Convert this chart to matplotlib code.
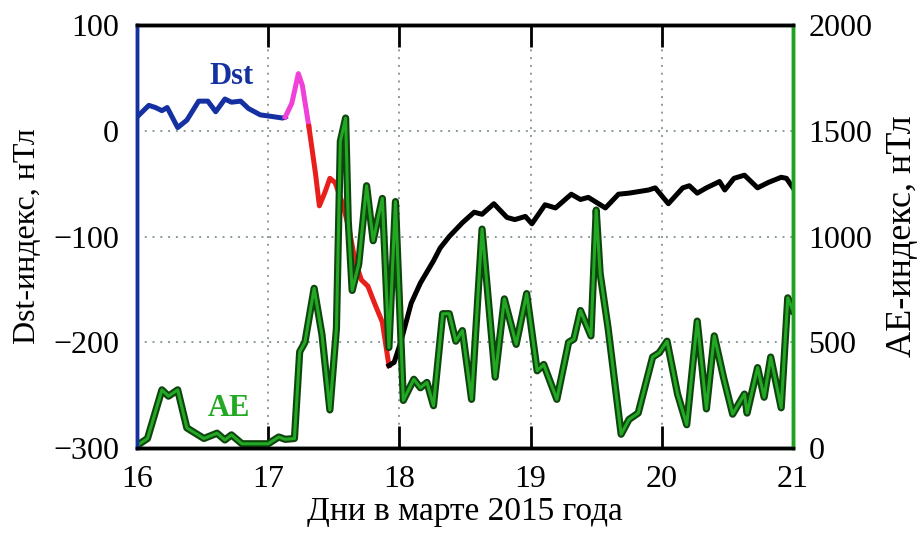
import matplotlib
matplotlib.use("Agg")
import matplotlib.pyplot as plt
import matplotlib.patheffects as pe
import numpy as np

plt.rcParams['font.family'] = ['Liberation Serif', 'DejaVu Serif']

# Dst index, split by phase (each segment shares its first point with the previous one)
dst_blue_t = [16.0, 16.09, 16.14, 16.19, 16.23, 16.31, 16.38, 16.47, 16.54, 16.60, 16.67,
              16.72, 16.79, 16.85, 16.94, 17.0, 17.11, 17.13]
dst_blue_v = [13, 24, 22, 19, 22, 3, 10, 28, 28, 18, 30, 27, 28, 21, 15, 14, 12, 13]

dst_magenta_t = [17.13, 17.18, 17.23, 17.26, 17.31]
dst_magenta_v = [13, 26, 54, 43, 4]

dst_red_t = [17.31, 17.36, 17.39, 17.43, 17.47, 17.51, 17.57, 17.62, 17.66, 17.71, 17.76,
             17.81, 17.87, 17.92]
dst_red_v = [4, -40, -71, -59, -45, -49, -70, -95, -122, -141, -147, -163, -181, -222]

dst_black_t = [17.92, 17.96, 18.01, 18.09, 18.16, 18.26, 18.31, 18.38, 18.48, 18.57, 18.63,
               18.72, 18.82, 18.88, 18.96, 19.01, 19.11, 19.19, 19.31, 19.38, 19.44, 19.57,
               19.67, 19.75, 19.90, 19.95, 20.05, 20.16, 20.21, 20.27, 20.34, 20.44, 20.48,
               20.55, 20.63, 20.73, 20.81, 20.91, 20.95, 21.0]
dst_black_v = [-222, -219, -200, -163, -144, -123, -111, -100, -87, -77, -79,
               -69, -82, -84, -81, -88, -70, -73, -60, -65, -63, -73,
               -60, -59, -56, -54, -69, -54, -52, -59, -54, -48, -56,
               -45, -42, -54, -49, -44, -45, -54]

# AE index
ae_t = [16.0, 16.02, 16.08, 16.19, 16.24, 16.31, 16.38, 16.51, 16.61, 16.67, 16.72, 16.80,
        17.0, 17.08, 17.13, 17.20, 17.24, 17.28, 17.35, 17.41, 17.47, 17.52, 17.55, 17.59,
        17.61, 17.64, 17.69, 17.75, 17.80, 17.87, 17.92, 17.97, 18.03, 18.11, 18.16, 18.21,
        18.26, 18.33, 18.38, 18.43, 18.48, 18.55, 18.63, 18.73, 18.80, 18.89, 18.97, 19.05,
        19.10, 19.20, 19.29, 19.33, 19.38, 19.46, 19.50, 19.53, 19.59, 19.69, 19.75, 19.82,
        19.93, 19.98, 20.04, 20.12, 20.19, 20.27, 20.34, 20.40, 20.47, 20.54, 20.63, 20.65,
        20.73, 20.78, 20.83, 20.91, 20.96, 21.0]
ae_v = [10, 20, 45, 275, 245, 275, 95, 45, 70, 38, 62, 20,
        20, 52, 41, 45, 455, 500, 755, 535, 180, 565, 1450, 1560,
        1075, 745, 870, 1240, 980, 1180, 475, 1165, 225, 325, 285, 310,
        200, 635, 635, 505, 555, 230, 1035, 335, 705, 490, 730, 365,
        395, 230, 500, 515, 650, 530, 1125, 825, 570, 65, 135, 165,
        430, 450, 505, 255, 110, 600, 185, 530, 335, 160, 255, 165,
        380, 240, 430, 190, 710, 650]

day_ticks = [16, 17, 18, 19, 20, 21]
dst_ticks = [-300, -200, -100, 0, 100]
ae_ticks = [0, 500, 1000, 1500, 2000]

fig = plt.figure(figsize=(9.24, 5.35), dpi=100)
ax = fig.add_axes([137 / 924, 1 - 448 / 535, (793 - 137) / 924, (448 - 25) / 535])
ax2 = ax.twinx()

lw = 3.6
ax.plot(dst_blue_t, dst_blue_v, color='#1530a0', lw=lw, solid_joinstyle='round')
ax.plot(dst_magenta_t, dst_magenta_v, color='#f040d8', lw=lw, solid_joinstyle='round')
ax.plot(dst_red_t, dst_red_v, color='#e8201c', lw=lw, solid_joinstyle='round')
ax.plot(dst_black_t, dst_black_v, color='black', lw=lw, solid_joinstyle='round')

ax2.plot(ae_t, ae_v, color='#22a822', lw=2.2, solid_joinstyle='round',
         path_effects=[pe.Stroke(linewidth=5.2, foreground='#0f440f'), pe.Normal()])

ax.set_xlim(16, 21)
ax.set_ylim(-300, 100)
ax2.set_ylim(0, 2000)
ax.set_xticks(day_ticks)
ax.set_yticks(dst_ticks)
ax2.set_yticks(ae_ticks)

ax.grid(True, color='#8a9a9a', linestyle=(0, (1, 3)), linewidth=1.4)
ax.set_axisbelow(True)

ax.tick_params(axis='x', direction='in', length=16, width=2, top=True, labelsize=23, pad=12)
ax.tick_params(axis='y', length=0, labelsize=23, pad=13)
ax2.tick_params(axis='y', length=0, labelsize=23, pad=11)

for a in (ax, ax2):
    a.spines['top'].set_linewidth(2.5)
    a.spines['bottom'].set_linewidth(2.5)
    a.spines['left'].set_color('#1530a0')
    a.spines['left'].set_linewidth(2.5)
    a.spines['right'].set_color('#1fa21f')
    a.spines['right'].set_linewidth(2.5)

ax.set_xlabel('Дни в марте 2015 года', fontsize=24, labelpad=2)
ax.set_ylabel('Dst-индекс, нТл', fontsize=23, labelpad=8)
ax2.set_ylabel('AE-индекс, нТл', fontsize=26, labelpad=10)

ax.text(16.72, 51, 'Dst', color='#1530a0', fontsize=22, fontweight='bold',
        ha='center', va='center')
ax.text(16.70, -263, 'AE', color='#22a822', fontsize=22, fontweight='bold',
        ha='center', va='center')

fig.savefig('out.png', dpi=100)
